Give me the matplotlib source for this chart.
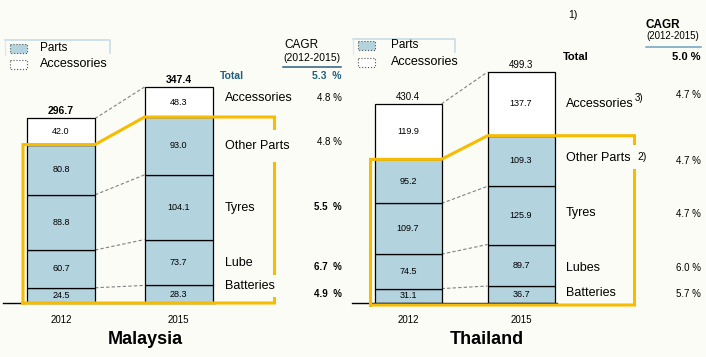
import numpy as np
import matplotlib
matplotlib.use('Agg')
import matplotlib.pyplot as plt
from matplotlib.patches import Rectangle

plt.rcParams['font.family'] = ['Liberation Sans', 'DejaVu Sans']

W, H = 706, 357
BG = '#fcfcf6'
BLUE = '#b3d3de'
YELLOW = '#f7bb00'
TEAL = '#1f5f80'

years = ['2012', '2015']

# Malaysia, stacked bottom -> top
my_batteries = [24.5, 28.3]
my_lube = [60.7, 73.7]
my_tyres = [88.8, 104.1]
my_other = [80.8, 93.0]
my_access = [42.0, 48.3]
my_totals = [296.7, 347.4]
my_labels = ['Accessories', 'Other Parts', 'Tyres', 'Lube', 'Batteries']
my_cagr = ['4.8 %', '4.8 %', '5.5  %', '6.7  %', '4.9  %']
my_cagr_total = '5.3  %'

# Thailand
th_batteries = [31.1, 36.7]
th_lubes = [74.5, 89.7]
th_tyres = [109.7, 125.9]
th_other = [95.2, 109.3]
th_access = [119.9, 137.7]
th_totals = [430.4, 499.3]
th_labels = ['Accessories', 'Other Parts', 'Tyres', 'Lubes', 'Batteries']
th_cagr = ['4.7 %', '4.7 %', '4.7 %', '6.0 %', '5.7 %']
th_cagr_total = '5.0 %'

fig = plt.figure(figsize=(W / 100, H / 100), dpi=100, facecolor=BG)


def px_axes(x0, x1, ytop, ybase, c0, unit, scale):
    # axes placed by pixel box; bar 0 centre at pixel c0, unit px per category
    ax = fig.add_axes([x0 / W, (H - ybase) / H, (x1 - x0) / W, (ybase - ytop) / H])
    ax.set_xlim((x0 - c0) / unit, (x1 - c0) / unit)
    ax.set_ylim(0, (ybase - ytop) / scale)
    ax.axis('off')
    ax.patch.set_alpha(0)
    return ax


def draw_panel(ax, stacks, totals, width, unit, scale, bold_tot, yr_right, yb_off):
    x = np.arange(len(years))
    bottom = np.zeros(len(years))
    levels = []
    for i, vals in enumerate(stacks):
        col = 'white' if i == len(stacks) - 1 else BLUE
        ax.bar(x, vals, width, bottom=bottom, color=col, edgecolor='black', lw=0.9, zorder=2)
        for xi, b, v in zip(x, bottom, vals):
            ax.text(xi, b + v / 2, f'{v:.1f}', ha='center', va='center', fontsize=6.5, zorder=3)
        bottom = bottom + np.array(vals)
        levels.append(bottom.copy())
    # baseline
    ax.plot([ax.get_xlim()[0], 1 + width / 2 + 2 / unit], [0, 0], color='black', lw=1.0,
            zorder=3, clip_on=False)
    # dashed connectors
    for k in [0, 1, 2, 4]:
        lv = levels[k] if k < 4 else np.array(totals)
        ax.plot([width / 2, 1 - width / 2], [lv[0], lv[1]], color='#808080', ls=(0, (3, 2)), lw=0.8, zorder=1)
    for xi, t in zip(x, totals):
        ax.annotate(f'{t:.1f}', (xi, t), xytext=(0, 1.5), textcoords='offset points', ha='center',
                    va='bottom', fontsize=7.5 if bold_tot else 7, fontweight='bold' if bold_tot else 'normal')
    for xi, yr in zip(x, years):
        ax.annotate(yr, (xi, 0), xytext=(0, -12.5), textcoords='offset points', ha='center',
                    va='center', fontsize=7)
    # yellow highlight around parts
    parts = levels[3]
    lx = -width / 2 - 4 / unit
    rx = 1 + width / 2 + yr_right / unit
    yb = -yb_off / scale
    ax.plot([lx, lx, width / 2, 1 - width / 2, rx, rx, lx],
            [yb, parts[0], parts[0], parts[1], parts[1], yb, yb],
            color=YELLOW, lw=2.2, clip_on=False, zorder=4, solid_joinstyle='miter')


# Malaysia panel
my_scale = 216 / 347.4
ax1 = px_axes(3, 352, 5, 303, 61, 117.5, my_scale)
draw_panel(ax1, [my_batteries, my_lube, my_tyres, my_other, my_access], my_totals,
           68 / 117.5, 117.5, my_scale, True, 62, 0)

# Thailand panel
th_scale = 231 / 499.3
ax2 = px_axes(352, 706, 5, 303, 408, 113, th_scale)
draw_panel(ax2, [th_batteries, th_lubes, th_tyres, th_other, th_access], th_totals,
           67 / 113, 113, th_scale, False, 80, 2)

# overlay for annotations in pixel space
ov = fig.add_axes([0, 0, 1, 1], zorder=10)
ov.set_xlim(0, W)
ov.set_ylim(H, 0)
ov.axis('off')
ov.patch.set_alpha(0)

mask = dict(facecolor=BG, edgecolor='none')

# legends
for lx, ty, y1, y2, rx in [(10, 40, 48, 64, 110), (358, 39, 45, 62, 455)]:
    ov.plot([lx - 5, rx, rx], [ty, ty, ty + 13], color='#c8dce8', lw=1.2)
    ov.plot([lx - 5, lx - 5], [ty, ty + 15], color='#dde8ef', lw=1.0)
    ov.add_patch(Rectangle((lx, y1 - 4.5), 17, 9, facecolor=BLUE, edgecolor='#555555', ls=':', lw=0.8))
    ov.add_patch(Rectangle((lx, y2 - 4.5), 17, 9, facecolor='white', edgecolor='#555555', ls=':', lw=0.8))
    ov.text(lx + 30 + (3 if lx > 100 else 0), y1, 'Parts', fontsize=8.5, va='center')
    ov.text(lx + 30 + (3 if lx > 100 else 0), y2, 'Accessories', fontsize=9, va='center')

# Malaysia side labels and CAGR
my_lab_y = [98, 146, 208, 263, 286]
my_val_y = [98, 142, 207, 267, 294]
for lab, ly, v, vy in zip(my_labels, my_lab_y, my_cagr, my_val_y):
    if lab == 'Other Parts':
        ov.text(225, ly, lab, fontsize=9, va='center', bbox=dict(pad=7, **mask))
    elif lab == 'Batteries':
        ov.text(225, ly, lab, fontsize=9, va='center', bbox=dict(pad=3.5, **mask))
    else:
        ov.text(225, ly, lab, fontsize=9, va='center')
    ov.text(342, vy, v, fontsize=7, va='center', ha='right',
            fontweight='bold' if '  ' in v else 'normal')
ov.text(284, 45, 'CAGR', fontsize=8.5, va='center')
ov.text(283, 58, '(2012-2015)', fontsize=7.5, va='center')
ov.plot([283, 341], [67, 67], color='#2f5f7a', lw=1.1)
ov.text(220, 76, 'Total', fontsize=7.5, fontweight='bold', color=TEAL, va='center')
ov.text(342, 76, my_cagr_total, fontsize=7.5, fontweight='bold', color=TEAL, va='center', ha='right')

# Thailand side labels and CAGR
th_lab_y = [104, 158, 213, 268, 293]
th_val_y = [95, 161, 214, 268, 294]
for lab, ly, v, vy in zip(th_labels, th_lab_y, th_cagr, th_val_y):
    ov.text(566, ly, lab, fontsize=9, va='center')
    ov.text(701, vy, v, fontsize=7, va='center', ha='right')
ov.text(635, 98, '3)', fontsize=7, va='center')
ov.text(637, 157, '2)', fontsize=7.5, va='center', bbox=dict(pad=5, **mask))
ov.text(568, 15, '1)', fontsize=7.5, va='center')
ov.text(646, 25, 'CAGR', fontsize=8.5, fontweight='bold', va='center')
ov.text(646, 36, '(2012-2015)', fontsize=7, va='center')
ov.plot([646, 701], [47, 47], color='#6fa0c0', lw=1.1)
ov.text(563, 57, 'Total', fontsize=8, fontweight='bold', va='center')
ov.text(701, 57, th_cagr_total, fontsize=8, fontweight='bold', va='center', ha='right')

# titles
ov.text(145, 340, 'Malaysia', fontsize=13, fontweight='bold', ha='center', va='center')
ov.text(487, 340, 'Thailand', fontsize=13, fontweight='bold', ha='center', va='center')

fig.savefig('out.png', dpi=100, facecolor=BG)
